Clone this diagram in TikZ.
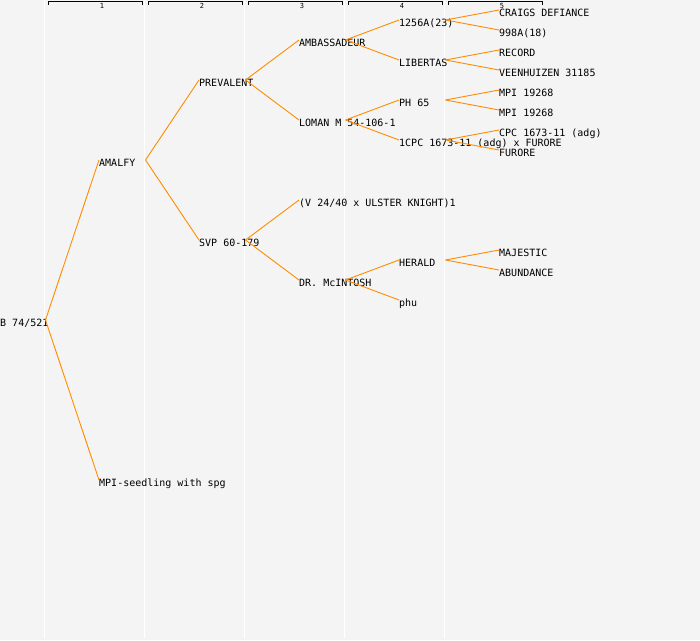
\documentclass[tikz,border=0pt]{standalone}
\usepackage{fontspec}
\setmonofont{DejaVu Sans Mono}
\usetikzlibrary{calc}
\definecolor{bg}{RGB}{244,244,244}
\definecolor{conn}{RGB}{255,140,0}
\tikzset{
  lbl/.style={font=\ttfamily\fontsize{10pt}{10pt}\selectfont, inner sep=0pt, anchor=base west, text=black},
  hdr/.style={font=\ttfamily\fontsize{7pt}{7pt}\selectfont, inner sep=0pt, text=black},
  connline/.style={draw=conn, line width=0.9pt},
  colline/.style={draw=white, line width=1.5pt},
  bracket/.style={draw=black, line width=0.9pt}
}
\newcommand\lnk[2]{\draw[connline] (#1-o) -- ($(#2.base west)+(0,-6)$);}
\begin{document}
\begin{tikzpicture}[x=1pt,y=-1pt]
\fill[bg] (0,0) rectangle (700,640);
\useasboundingbox (0,0) rectangle (700,640);
% column separators
\foreach \k in {0,...,4} {
  \draw[colline] (44.5+100*\k,0) -- (44.5+100*\k,638);
}
% headers
\foreach \k in {1,...,5} {
  \draw[bracket] (48+100*\k-100,4.5) -- (48+100*\k-100,1.5) -- (142.5+100*\k-100,1.5) -- (142.5+100*\k-100,4.5);
  \node[hdr] (h\k) at (102+100*\k-100,6) {\k};
}
% nodes (x = left, y = baseline)
\node[lbl] (b) at (0,326) {B 74/521};
\node[lbl] (amalfy) at (99,166) {AMALFY};
\node[lbl] (mpi) at (99,486) {MPI-seedling with spg};
\node[lbl] (prev) at (199,86) {PREVALENT};
\node[lbl] (svp) at (199,246) {SVP 60-179};
\node[lbl] (amb) at (299,46) {AMBASSADEUR};
\node[lbl] (loman) at (299,126) {LOMAN M 54-106-1};
\node[lbl] (v24) at (299,206) {(V 24/40 x ULSTER KNIGHT)1};
\node[lbl] (drmc) at (299,286) {DR. McINTOSH};
\node[lbl] (a1256) at (399,26) {1256A(23)};
\node[lbl] (lib) at (399,66) {LIBERTAS};
\node[lbl] (ph) at (399,106) {PH 65};
\node[lbl] (cpc1) at (399,146) {1CPC 1673-11 (adg) x FURORE};
\node[lbl] (herald) at (399,266) {HERALD};
\node[lbl] (phu) at (399,306) {phu};
\node[lbl] (craigs) at (499,16) {CRAIGS DEFIANCE};
\node[lbl] (a998) at (499,36) {998A(18)};
\node[lbl] (record) at (499,56) {RECORD};
\node[lbl] (veen) at (499,76) {VEENHUIZEN 31185};
\node[lbl] (mpia) at (499,96) {MPI 19268};
\node[lbl] (mpib) at (499,116) {MPI 19268};
\node[lbl] (cpc2) at (499,136) {CPC 1673-11 (adg)};
\node[lbl] (furore) at (499,156) {FURORE};
\node[lbl] (majestic) at (499,256) {MAJESTIC};
\node[lbl] (abundance) at (499,276) {ABUNDANCE};
% out ports of parents
\coordinate (b-o) at (45.5,320);
\coordinate (amalfy-o) at (145.5,160);
\coordinate (prev-o) at (245.5,80);
\coordinate (svp-o) at (245.5,240);
\coordinate (amb-o) at (345.5,40);
\coordinate (loman-o) at (345.5,120);
\coordinate (drmc-o) at (345.5,280);
\coordinate (a1256-o) at (445.5,20);
\coordinate (lib-o) at (445.5,60);
\coordinate (ph-o) at (445.5,100);
\coordinate (cpc1-o) at (445.5,140);
\coordinate (herald-o) at (445.5,260);
% connectors
\lnk{b}{amalfy}
\lnk{b}{mpi}
\lnk{amalfy}{prev}
\lnk{amalfy}{svp}
\lnk{prev}{amb}
\lnk{prev}{loman}
\lnk{svp}{v24}
\lnk{svp}{drmc}
\lnk{amb}{a1256}
\lnk{amb}{lib}
\lnk{loman}{ph}
\lnk{loman}{cpc1}
\lnk{drmc}{herald}
\lnk{drmc}{phu}
\lnk{a1256}{craigs}
\lnk{a1256}{a998}
\lnk{lib}{record}
\lnk{lib}{veen}
\lnk{ph}{mpia}
\lnk{ph}{mpib}
\lnk{cpc1}{cpc2}
\lnk{cpc1}{furore}
\lnk{herald}{majestic}
\lnk{herald}{abundance}
\end{tikzpicture}
\end{document}
